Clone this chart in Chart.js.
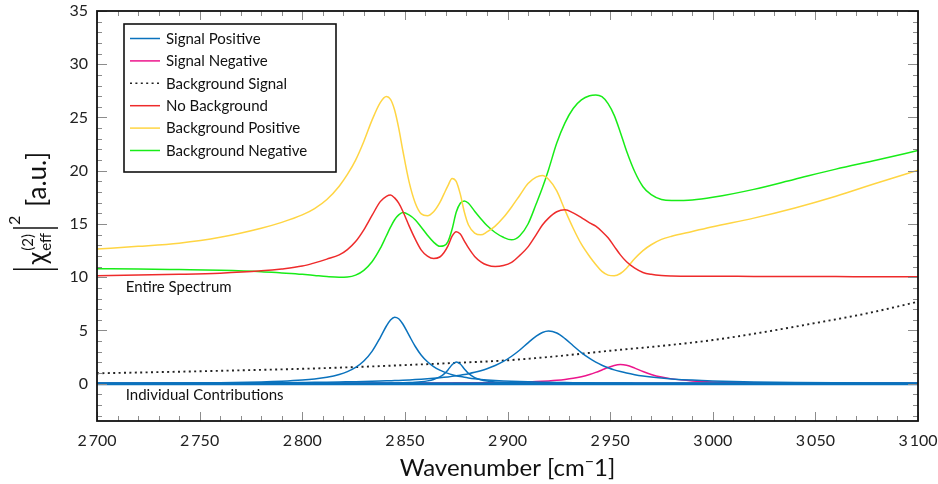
<!DOCTYPE html>
<html>
<head>
<meta charset="utf-8">
<script src="https://cdn.jsdelivr.net/npm/chart.js@4"></script>
<style>
  body { margin: 0; background: #fff; }
  #wrap { width: 938px; height: 484px; position: relative; }
</style>
</head>
<body>
<div id="wrap"><canvas id="chart"></canvas></div>
<script>
// Wavenumber grid (cm^-1), denser around the peaks
const wavenumber = [2700, 2720, 2740, 2760, 2780, 2790, 2800, 2806, 2812, 2818, 2822, 2826, 2830, 2834, 2838,
    2841, 2843, 2845, 2847, 2849, 2852, 2855, 2858, 2861, 2864, 2867, 2869, 2871, 2873, 2875,
    2877, 2879, 2881, 2884, 2887, 2890, 2894, 2898, 2902, 2906, 2910, 2914, 2917, 2920, 2924,
    2928, 2932, 2936, 2940, 2943, 2946, 2949, 2952, 2955, 2958, 2962, 2966, 2970, 2975, 2980,
    2990, 3000, 3020, 3040, 3060, 3080, 3100];

// Individual contributions
const signalPos1 = [0.036, 0.048, 0.067, 0.102, 0.172, 0.238, 0.348, 0.454, 0.615, 0.873, 1.139, 1.532, 2.13, 3.04, 4.34,
    5.42, 5.99, 6.25, 6.10, 5.61, 4.56, 3.52, 2.68, 2.06, 1.61, 1.28, 1.11, 0.97, 0.85, 0.754,
    0.672, 0.602, 0.542, 0.467, 0.407, 0.357, 0.303, 0.261, 0.227, 0.199, 0.176, 0.156, 0.144, 0.133, 0.120,
    0.109, 0.099, 0.091, 0.083, 0.078, 0.074, 0.070, 0.066, 0.062, 0.059, 0.055, 0.052, 0.048, 0.045, 0.041,
    0.036, 0.032, 0.025, 0.020, 0.016, 0.014, 0.012];
const signalPos2 = [0.002, 0.003, 0.003, 0.005, 0.007, 0.009, 0.011, 0.013, 0.015, 0.019, 0.022, 0.025, 0.030, 0.036, 0.044,
    0.052, 0.058, 0.066, 0.075, 0.087, 0.109, 0.141, 0.19, 0.268, 0.40, 0.64, 0.90, 1.30, 1.78, 2.05,
    1.85, 1.39, 0.97, 0.58, 0.366, 0.249, 0.162, 0.113, 0.083, 0.063, 0.050, 0.040, 0.035, 0.031, 0.026,
    0.022, 0.019, 0.017, 0.015, 0.013, 0.012, 0.011, 0.010, 0.010, 0.009, 0.008, 0.007, 0.007, 0.006, 0.006,
    0.005, 0.004, 0.003, 0.003, 0.002, 0.002, 0.002];
const signalPos3 = [0.037, 0.044, 0.054, 0.069, 0.089, 0.103, 0.121, 0.133, 0.148, 0.165, 0.179, 0.194, 0.210, 0.229, 0.251,
    0.269, 0.283, 0.297, 0.312, 0.329, 0.357, 0.387, 0.422, 0.462, 0.508, 0.560, 0.599, 0.642, 0.690, 0.743,
    0.802, 0.868, 0.942, 1.069, 1.221, 1.404, 1.707, 2.09, 2.58, 3.17, 3.84, 4.47, 4.81, 4.95, 4.76,
    4.24, 3.57, 2.92, 2.37, 2.03, 1.74, 1.50, 1.30, 1.14, 1.00, 0.848, 0.727, 0.629, 0.531, 0.454,
    0.341, 0.266, 0.173, 0.121, 0.090, 0.069, 0.055];
const signalNeg1 = [0.006, 0.007, 0.008, 0.010, 0.012, 0.014, 0.016, 0.017, 0.018, 0.020, 0.021, 0.023, 0.024, 0.026, 0.028,
    0.029, 0.030, 0.031, 0.032, 0.034, 0.036, 0.038, 0.040, 0.043, 0.045, 0.049, 0.051, 0.053, 0.056, 0.059,
    0.062, 0.065, 0.069, 0.075, 0.081, 0.088, 0.096, 0.109, 0.125, 0.144, 0.168, 0.199, 0.227, 0.262, 0.321,
    0.400, 0.508, 0.657, 0.863, 1.062, 1.291, 1.529, 1.721, 1.80, 1.73, 1.467, 1.150, 0.875, 0.624, 0.455,
    0.265, 0.170, 0.085, 0.051, 0.034, 0.024, 0.018];

// Entire spectrum
const noBackground = [10.15, 10.2, 10.27, 10.38, 10.6, 10.78, 11.05, 11.35, 11.7, 12.1, 12.6, 13.35, 14.45, 15.8, 17.1,
    17.6, 17.73, 17.45, 16.95, 16.2, 14.85, 13.6, 12.55, 11.98, 11.75, 11.9, 12.3, 12.95, 13.85, 14.28,
    14.05, 13.4, 12.75, 11.95, 11.45, 11.15, 11.0, 11.1, 11.4, 12.05, 12.85, 14.0, 14.9, 15.55, 16.15,
    16.33, 16.05, 15.6, 15.1, 14.8, 14.3, 13.7, 12.9, 12.1, 11.45, 10.85, 10.45, 10.27, 10.16, 10.12,
    10.1, 10.1, 10.08, 10.07, 10.06, 10.05, 10.05];
const backgroundPos = [12.65, 12.9, 13.2, 13.75, 14.6, 15.15, 15.85, 16.45, 17.3, 18.55, 19.65, 21.0, 22.75, 24.75, 26.4,
    26.97, 26.7, 25.7, 24.0, 21.9, 19.0, 17.0, 15.95, 15.78, 16.15, 17.0, 17.8, 18.6, 19.28, 19.0,
    17.8, 16.1, 14.9, 14.15, 13.98, 14.25, 14.8, 15.6, 16.6, 17.7, 18.8, 19.4, 19.55, 19.2, 18.1,
    16.3, 14.6, 13.1, 11.95, 11.2, 10.55, 10.2, 10.13, 10.35, 10.85, 11.75, 12.5, 13.05, 13.55, 13.85,
    14.3, 14.75, 15.55, 16.5, 17.6, 18.85, 20.05];
const backgroundNeg = [10.8, 10.78, 10.72, 10.65, 10.52, 10.4, 10.27, 10.17, 10.07, 10.01, 10.03, 10.2, 10.65, 11.45, 12.7,
    13.9, 14.7, 15.4, 15.85, 16.07, 15.85, 15.4, 14.7, 13.95, 13.3, 12.9, 12.95, 13.35, 14.5, 16.1,
    16.95, 17.17, 16.95, 16.2, 15.5, 14.85, 14.2, 13.75, 13.51, 13.9, 15.0, 16.9, 18.4, 20.1, 22.6,
    24.5, 25.85, 26.65, 27.05, 27.12, 26.95, 26.3, 25.2, 23.6, 21.85, 19.9, 18.5, 17.75, 17.3, 17.2,
    17.25, 17.5, 18.25, 19.2, 20.15, 21.0, 21.9];

// Background signal (dotted)
const bgX = [2700, 2725, 2750, 2775, 2800, 2825, 2850, 2875, 2900, 2925, 2950, 2975, 3000, 3025, 3050, 3075, 3100];
const bgSignal = [0.98, 1.07, 1.17, 1.28, 1.4, 1.56, 1.75, 1.96, 2.2, 2.6, 3.1, 3.55, 4.1, 4.85, 5.7, 6.6, 7.7];

// Zero contributions
const baseX = [2700, 3100];
const baseY = [0, 0];

// Ticks
const xTicks = [2700, 2750, 2800, 2850, 2900, 2950, 3000, 3050, 3100];
const yTicks = [0, 5, 10, 15, 20, 25, 30, 35];
const xMinorStep = 10;
const yMinorStep = 1;

const BLUE = '#0a72bd';
const PINK = '#ec158c';
const RED = '#ee2b2b';
const YELLOW = '#ffd543';
const GREEN = '#18ec18';
const FONT = 'Lato, "Open Sans", sans-serif';

const pts = (xs, ys) => xs.map((x, i) => ({ x: x, y: ys[i] }));
const fmt = v => String(v).replace(/\B(?=(\d{3})+(?!\d))/g, '\u2009');

const datasets = [
    { label: 'Signal Positive', data: pts(baseX, baseY), borderColor: BLUE, borderWidth: 2.8, order: 1 },
    { label: 'Signal Positive', data: pts(wavenumber, signalPos1), borderColor: BLUE, order: 2 },
    { label: 'Signal Positive', data: pts(wavenumber, signalPos2), borderColor: BLUE, order: 2 },
    { label: 'Signal Positive', data: pts(wavenumber, signalPos3), borderColor: BLUE, order: 2 },
    { label: 'Signal Negative', data: pts(baseX, baseY), borderColor: PINK, borderWidth: 2.6, order: 4 },
    { label: 'Signal Negative', data: pts(wavenumber, signalNeg1), borderColor: PINK, order: 3 },
    { label: 'Background Signal', data: pts(bgX, bgSignal), borderColor: '#222', borderWidth: 1.9, borderDash: [2, 3.4], order: 5 },
    { label: 'No Background', data: pts(wavenumber, noBackground), borderColor: RED, order: 6 },
    { label: 'Background Positive', data: pts(wavenumber, backgroundPos), borderColor: YELLOW, order: 7 },
    { label: 'Background Negative', data: pts(wavenumber, backgroundNeg), borderColor: GREEN, order: 8 }
];

// legend entries: dataset indices in display order
const legendEntries = [1, 5, 6, 7, 8, 9];

const decorations = {
    id: 'decorations',
    afterDatasetsDraw(chart) {
        const { ctx, scales: { x, y } } = chart;
        ctx.save();
        // annotations
        ctx.fillStyle = '#111';
        ctx.font = '15px ' + FONT;
        ctx.textBaseline = 'middle';
        ctx.textAlign = 'left';
        ctx.fillText('Entire Spectrum', x.getPixelForValue(2714), y.getPixelForValue(9.1));
        ctx.fillText('Individual Contributions', x.getPixelForValue(2714), y.getPixelForValue(-1.1));

        // legend box
        const lx = 124, ly = 24, lw = 212, lh = 148;
        ctx.fillStyle = '#fff';
        ctx.fillRect(lx, ly, lw, lh);
        ctx.strokeStyle = '#111';
        ctx.lineWidth = 1.6;
        ctx.strokeRect(lx, ly, lw, lh);
        legendEntries.forEach((di, i) => {
            const ds = chart.data.datasets[di];
            const yy = ly + 14 + i * 22.4;
            ctx.beginPath();
            ctx.strokeStyle = ds.borderColor;
            ctx.lineWidth = 1.5;
            ctx.setLineDash(ds.borderDash || []);
            ctx.moveTo(lx + 6, yy + 0.5);
            ctx.lineTo(lx + 36, yy + 0.5);
            ctx.stroke();
            ctx.setLineDash([]);
            ctx.fillStyle = '#111';
            ctx.fillText(ds.label, lx + 42, yy + 1);
        });
        ctx.restore();
    },
    afterDraw(chart) {
        const { ctx, chartArea: a, scales: { x, y } } = chart;
        ctx.save();
        // inward ticks on all four sides
        ctx.strokeStyle = '#8c8c8c';
        ctx.lineWidth = 1;
        ctx.beginPath();
        for (let v = x.min; v <= x.max + 0.001; v += xMinorStep) {
            const px = Math.round(x.getPixelForValue(v)) + 0.5;
            const len = xTicks.includes(Math.round(v)) ? 9 : 5;
            ctx.moveTo(px, a.bottom); ctx.lineTo(px, a.bottom - len);
            ctx.moveTo(px, a.top); ctx.lineTo(px, a.top + len);
        }
        for (let v = Math.ceil(y.min); v <= y.max + 0.001; v += yMinorStep) {
            const py = Math.round(y.getPixelForValue(v)) + 0.5;
            const len = yTicks.includes(v) ? 10 : 5;
            ctx.moveTo(a.left, py); ctx.lineTo(a.left + len, py);
            ctx.moveTo(a.right, py); ctx.lineTo(a.right - len, py);
        }
        ctx.stroke();
        // frame
        ctx.strokeStyle = '#111';
        ctx.lineWidth = 1.8;
        ctx.strokeRect(a.left, a.top, a.right - a.left, a.bottom - a.top);

        // x title
        ctx.fillStyle = '#111';
        ctx.textBaseline = 'alphabetic';
        ctx.textAlign = 'left';
        const big = '24px ' + FONT, small = '16px ' + FONT;
        const parts = [['Wavenumber [cm', big, 0], ['\u2212', small, -9], ['1]', big, 0]];
        let w = 0;
        parts.forEach(p => { ctx.font = p[1]; w += ctx.measureText(p[0]).width; });
        let cx = (a.left + a.right) / 2 - w / 2;
        parts.forEach(p => { ctx.font = p[1]; ctx.fillText(p[0], cx, 476 + p[2]); cx += ctx.measureText(p[0]).width; });

        // y title, rotated
        ctx.translate(46, 211);
        ctx.rotate(-Math.PI / 2);
        const main = '26px ' + FONT, scr = '15px ' + FONT;
        ctx.font = main;
        const wChi = ctx.measureText('\u03c7').width;
        const wAu = ctx.measureText('[a.u.]').width;
        ctx.font = scr;
        const wScr = Math.max(ctx.measureText('(2)').width, ctx.measureText('eff').width);
        ctx.font = '16px ' + FONT;
        const wSq = ctx.measureText('2').width;
        const total = 2 + 4 + wChi + 1 + wScr + 4 + 2 + 2 + wSq + 9 + wAu;
        let tx = -total / 2;
        const bar = pos => {
            ctx.beginPath();
            ctx.lineWidth = 1.5;
            ctx.strokeStyle = '#111';
            ctx.moveTo(pos, -33); ctx.lineTo(pos, 12);
            ctx.stroke();
        };
        bar(tx + 1);
        tx += 2 + 4;
        ctx.font = main;
        ctx.fillText('\u03c7', tx, 0);
        tx += wChi + 1;
        ctx.font = scr;
        ctx.fillText('(2)', tx, -13);
        ctx.fillText('eff', tx, 5);
        tx += wScr + 4;
        bar(tx + 1);
        tx += 2 + 2;
        ctx.font = '16px ' + FONT;
        ctx.fillText('2', tx, -26);
        tx += wSq + 9;
        ctx.font = main;
        ctx.fillText('[a.u.]', tx, 0);
        ctx.restore();
    }
};

new Chart(document.getElementById('chart'), {
    type: 'line',
    data: { datasets: datasets },
    options: {
        responsive: true,
        maintainAspectRatio: false,
        animation: false,
        layout: { padding: { top: 11, right: 20, left: 0, bottom: 0 } },
        plugins: { legend: { display: false }, tooltip: { enabled: false } },
        elements: {
            point: { radius: 0 },
            line: { borderWidth: 1.5, cubicInterpolationMode: 'monotone', fill: false }
        },
        scales: {
            x: {
                type: 'linear',
                min: 2700,
                max: 3100,
                afterBuildTicks: s => { s.ticks = xTicks.map(v => ({ value: v })); },
                afterFit: s => { s.height = 63; s.paddingLeft = 0; s.paddingRight = 0; },
                grid: { display: false },
                border: { display: false },
                ticks: { font: { family: FONT, size: 16 }, color: '#222', padding: 2, maxRotation: 0, callback: v => fmt(v) }
            },
            y: {
                type: 'linear',
                min: -3.5,
                max: 35,
                afterBuildTicks: s => { s.ticks = yTicks.map(v => ({ value: v })); },
                afterFit: s => { s.width = 97; s.paddingTop = 0; s.paddingBottom = 0; },
                grid: { display: false },
                border: { display: false },
                ticks: { font: { family: FONT, size: 16 }, color: '#222', padding: 1, callback: v => String(v) }
            }
        }
    },
    plugins: [decorations]
});
</script>
</body>
</html>
